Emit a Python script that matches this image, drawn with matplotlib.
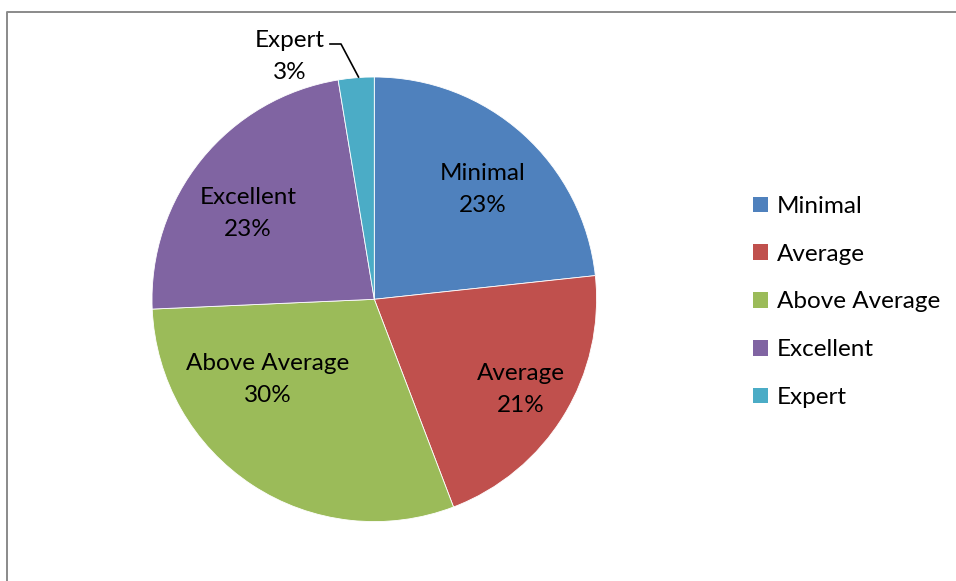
import matplotlib
matplotlib.use("Agg")
import matplotlib.pyplot as plt
from matplotlib.patches import Patch
from matplotlib.lines import Line2D

# Skill level distribution (percent of respondents)
categories = ["Minimal", "Average", "Above Average", "Excellent", "Expert"]
shares = [23.3, 20.9, 30.1, 23.1, 2.6]
colors = ["#4F81BD", "#C0504D", "#9BBB59", "#8064A2", "#4BACC6"]

plt.rcParams["font.family"] = ["Lato", "DejaVu Sans"]

W, H = 956, 581
fig = plt.figure(figsize=(W / 100, H / 100), dpi=100)

# chart area border (runs off the right and bottom edges)
bx, by = 6.5 / W, 1 - 12 / H
fig.add_artist(Line2D([bx, bx, 1.0], [0.0, by, by], transform=fig.transFigure,
                      color="#8a8a8a", linewidth=1.4))

cx, cy, r = 374.3, 299.3, 222.3
ax = fig.add_axes([(cx - r) / W, 1 - (cy + r) / H, 2 * r / W, 2 * r / H])
wedges, _ = ax.pie(shares, colors=colors, startangle=90, counterclock=False,
                   radius=1.0, wedgeprops=dict(edgecolor="white", linewidth=0.6))
ax.set_xlim(-1, 1)
ax.set_ylim(-1, 1)
ax.set_aspect("equal")
ax.axis("off")

label_pos = [(0.489, 0.496), (0.660, -0.406), (-0.478, -0.359), (-0.568, 0.388), (-0.379, 1.094)]
fs = 17.5
for name, v, (x, y) in zip(categories, shares, label_pos):
    ax.text(x, y, f"{name}\n{v:.0f}%", ha="center", va="center", fontsize=fs,
            linespacing=1.65, color="black")

# leader line for the small slice
def to_ax(px, py):
    return (px - cx) / r, (cy - py) / r

pts = [to_ax(330, 44), to_ax(341, 44), to_ax(358.5, 77)]
ax.add_line(Line2D([p[0] for p in pts], [p[1] for p in pts], color="black",
                   linewidth=1.2, clip_on=False))

handles = [Patch(facecolor=c, edgecolor="none") for c in colors]
leg = fig.legend(handles, categories, loc="upper left",
                 bbox_to_anchor=(753 / W, 1 - 196 / H), frameon=False,
                 fontsize=fs, handlelength=0.62, handleheight=0.62,
                 handletextpad=0.35, labelspacing=1.1, borderaxespad=0,
                 borderpad=0)

fig.savefig("out.png", dpi=100)
